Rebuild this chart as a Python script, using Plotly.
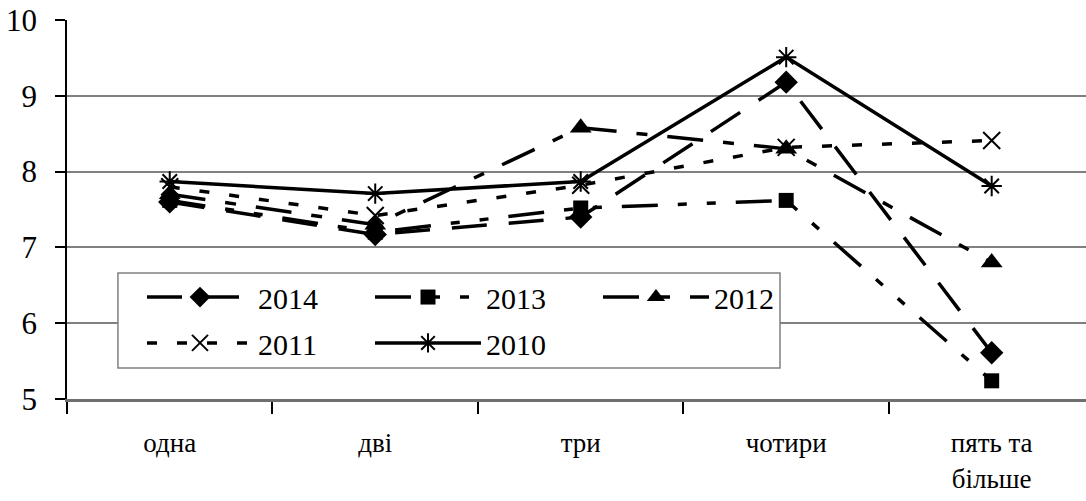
import plotly.graph_objects as go

categories = ["одна", "дві", "три", "чотири", "пять та більше"]
tick_labels = ["одна", "дві", "три", "чотири", "пять та<br>більше"]

y2014 = [7.6, 7.17, 7.4, 9.18, 5.61]
y2013 = [7.62, 7.2, 7.52, 7.62, 5.24]
y2012 = [7.7, 7.3, 8.58, 8.3, 6.8]
y2011 = [7.8, 7.42, 7.82, 8.32, 8.41]
y2010 = [7.87, 7.71, 7.87, 9.51, 7.81]

series = [
    ("2014", y2014, "35px,22px", "diamond", 18, 0, "legend"),
    ("2013", y2013, "36px,20px,9px,20px,9px,20px", "square", 15, 0, "legend"),
    ("2012", y2012, "36px,20px,11px,20px", "triangle-up", 19, 0, "legend"),
    ("2011", y2011, "10px,20px", "x-thin-open", 17, 2, "legend2"),
    ("2010", y2010, "solid", "asterisk-open", 17, 2, "legend2"),
]

FONT = "Liberation Serif, Times New Roman, serif"
fig = go.Figure()
for name, ys, dash, sym, size, lw, lg in series:
    fig.add_trace(go.Scatter(
        x=categories, y=ys, name=name, mode="lines+markers",
        line=dict(color="black", width=3.5, dash=dash),
        marker=dict(symbol=sym, size=size, color="black",
                    line=dict(color="black", width=lw)),
        legend=lg,
    ))

leg_common = dict(
    orientation="h", xanchor="left", yanchor="middle",
    entrywidth=107, entrywidthmode="pixels", itemwidth=106,
    borderwidth=0, bgcolor="rgba(0,0,0,0)",
    font=dict(family=FONT, size=30, color="black"),
    traceorder="normal",
)

fig.update_layout(
    width=1086, height=501,
    margin=dict(l=67, r=0, t=20, b=102),
    paper_bgcolor="white", plot_bgcolor="white",
    font=dict(family=FONT, color="black", size=26),
    showlegend=True,
    legend=dict(x=0.0736, y=0.269, **leg_common),
    legend2=dict(x=0.0736, y=0.148, **leg_common),
    shapes=[dict(
        type="rect", xref="paper", yref="paper",
        x0=0.05, x1=0.6997, y0=0.0818, y1=0.3325,
        line=dict(color="#808080", width=1.5), fillcolor="white",
        layer="above",
    )],
)
fig.update_xaxes(
    type="category", categoryorder="array", categoryarray=categories,
    tickvals=categories, ticktext=tick_labels,
    range=[-0.5, 4.459], tickson="boundaries",
    ticks="outside", ticklen=12, tickwidth=1.5, tickcolor="black",
    showline=True, linecolor="#6f6f6f", linewidth=3,
    showgrid=False, ticklabelstandoff=18,
    tickfont=dict(family=FONT, size=27, color="black"),
)
fig.update_yaxes(
    range=[5, 10], dtick=1, tick0=5,
    showgrid=True, gridcolor="#808080", gridwidth=1.5,
    showline=True, linecolor="black", linewidth=1.5,
    ticks="outside", ticklen=10, tickwidth=1.5, tickcolor="black",
    zeroline=False, ticklabelstandoff=12, ticklabeloverflow="allow",
    tickfont=dict(family=FONT, size=31, color="black"),
)
fig.write_html(
    "out.html",
    config={"displayModeBar": False},
    post_script="document.body.style.margin='0';document.body.style.overflow='hidden';",
)
